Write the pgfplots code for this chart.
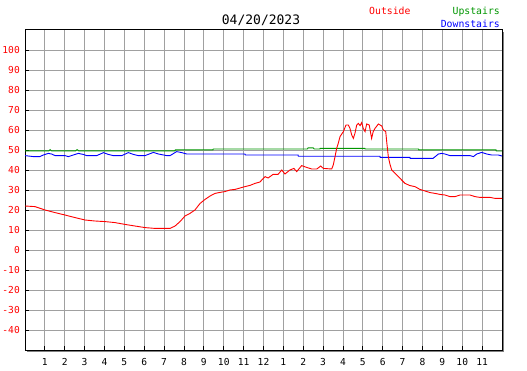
\documentclass[border=0pt]{standalone}
\usepackage{pgfplots}
\pgfplotsset{compat=1.18}
\usepackage{fontspec}
\setmainfont{DejaVu Sans Mono}
\setmonofont{DejaVu Sans Mono}
\definecolor{outc}{RGB}{255,0,0}
\definecolor{upc}{RGB}{0,150,0}
\definecolor{downc}{RGB}{0,0,255}
\definecolor{gridc}{RGB}{160,160,160}
\definecolor{shadowc}{RGB}{128,128,128}
\begin{document}
\begin{tikzpicture}
\path[use as bounding box] (0pt,0pt) rectangle (527pt,370pt);
\fill[shadowc] (27pt,18pt) rectangle (504pt,338pt);
\begin{axis}[
  at={(25pt,20pt)}, anchor=south west, scale only axis,
  width=477pt, height=320pt,
  xmin=0, xmax=24, ymin=-50, ymax=110,
  xtick={1,2,3,4,5,6,7,8,9,10,11,12,13,14,15,16,17,18,19,20,21,22,23},
  xticklabels={1,2,3,4,5,6,7,8,9,10,11,12,1,2,3,4,5,6,7,8,9,10,11},
  ytick={-40,-30,-20,-10,0,10,20,30,40,50,60,70,80,90,100},
  xtick pos=bottom, ytick pos=left,
  tick align=inside, major tick length=4pt,
  tick style={black, line width=0.8pt},
  grid=major, major grid style={draw=gridc, line width=0.8pt},
  axis line style={black, line width=1pt},
  axis background/.style={fill=white},
  /pgf/number format/assume math mode=true,
  ticklabel style={font=\fontsize{9.6}{10}\selectfont, inner sep=0pt},
  yticklabel style={text=outc, xshift=-5pt},
  xticklabel style={anchor=north, yshift=-8.3pt},
  every axis plot/.append style={line width=0.9pt, mark=none},
]
% Upstairs
\addplot[upc] coordinates {(0,49.6)(1.2,49.6)(1.26,50.2)(1.33,49.6)(2.55,49.6)(2.62,50.2)(2.7,49.6)(7.55,49.6)(7.56,50.1)(9.46,50.1)(9.47,50.5)(14.2,50.5)(14.25,51.1)(14.5,51.1)(14.55,50.5)(14.84,50.5)(14.85,50.8)(17.1,50.8)(17.11,50.5)(19.8,50.5)(19.81,50.1)(23.7,50.1)(23.71,49.5)(24,49.5)};
% Downstairs
\addplot[downc] coordinates {(0,47.2)(0.42,46.7)(0.75,46.7)(0.92,47.5)(1.17,48.3)(1.34,48)(1.51,47.2)(2.01,47.2)(2.18,46.7)(2.43,47.5)(2.68,48.3)(2.93,47.8)(3.10,47.2)(3.61,47.2)(3.86,48.3)(3.94,48.7)(4.19,47.8)(4.44,47.2)(4.87,47.2)(5.20,48.7)(5.45,47.8)(5.70,47.2)(6.04,47.2)(6.46,48.8)(6.71,48)(7.13,47.2)(7.30,47.2)(7.63,49.2)(7.88,48.7)(8.14,48)(11.07,48)(11.08,47.5)(13.74,47.5)(13.75,46.9)(17.86,46.9)(17.87,46.3)(19.37,46.3)(19.38,45.8)(20.53,45.8)(20.80,48)(20.97,48.3)(21.13,48)(21.38,47.2)(22.39,47.2)(22.56,46.7)(22.73,48)(22.98,48.8)(23.23,48)(23.48,47.5)(23.81,47.5)(24,47)};
% Outside
\addplot[outc] coordinates {(0,22)(0.50,21.7)(1.01,20)(1.51,18.7)(2.01,17.5)(2.52,16.2)(3.02,15)(3.52,14.5)(4.03,14.2)(4.53,13.7)(5.03,12.8)(5.53,12)(6.04,11.2)(6.54,10.8)(7.30,10.8)(7.55,12)(7.80,14.2)(8.05,17)(8.30,18.3)(8.55,20)(8.81,23.3)(9.06,25.3)(9.31,27)(9.56,28.3)(9.81,28.8)(10.06,29.2)(10.31,30)(10.57,30.3)(10.82,31)(11.07,31.7)(11.32,32.3)(11.57,33.3)(11.82,34)(12.08,36.7)(12.23,36)(12.48,37.8)(12.73,37.8)(12.92,40)(13.08,38)(13.33,40)(13.53,40.8)(13.67,39.2)(13.92,42.2)(14.17,41.3)(14.43,40.5)(14.68,40.5)(14.88,42)(15.01,40.8)(15.43,40.5)(15.51,42.5)(15.60,46.7)(15.68,50.8)(15.76,53.3)(15.85,56.7)(16.02,59.2)(16.15,62.5)(16.27,62.5)(16.35,60.8)(16.44,57.5)(16.52,55.8)(16.60,58.3)(16.69,62.5)(16.77,63.3)(16.86,62.2)(16.94,63.7)(17.02,60.8)(17.11,59.2)(17.19,63)(17.32,62.5)(17.44,55.8)(17.52,59.2)(17.61,60.8)(17.78,63)(17.95,62)(18.03,60)(18.15,59.2)(18.20,54)(18.28,46.7)(18.36,43)(18.45,40)(18.53,39.2)(18.70,37.5)(18.87,35.8)(19.12,33.3)(19.37,32.2)(19.62,31.7)(19.87,30.3)(20.13,29.5)(20.38,28.7)(20.63,28.3)(20.88,27.8)(21.13,27.5)(21.38,26.7)(21.64,26.7)(21.89,27.5)(22.39,27.5)(22.64,26.7)(22.89,26.3)(23.40,26.3)(23.65,25.8)(24,25.8)};
\end{axis}
\node[anchor=base, inner sep=0pt, font=\fontsize{13}{13}\selectfont] at (261pt,345pt) {04/20/2023};
\node[anchor=base west, inner sep=0pt, text=outc, font=\fontsize{9.8}{10}\selectfont] at (369pt,355pt) {Outside};
\node[anchor=base east, inner sep=0pt, text=upc, font=\fontsize{9.8}{10}\selectfont] at (500pt,355pt) {Upstairs};
\node[anchor=base east, inner sep=0pt, text=downc, font=\fontsize{9.8}{10}\selectfont] at (500pt,342.7pt) {Downstairs};
\end{tikzpicture}
\end{document}
